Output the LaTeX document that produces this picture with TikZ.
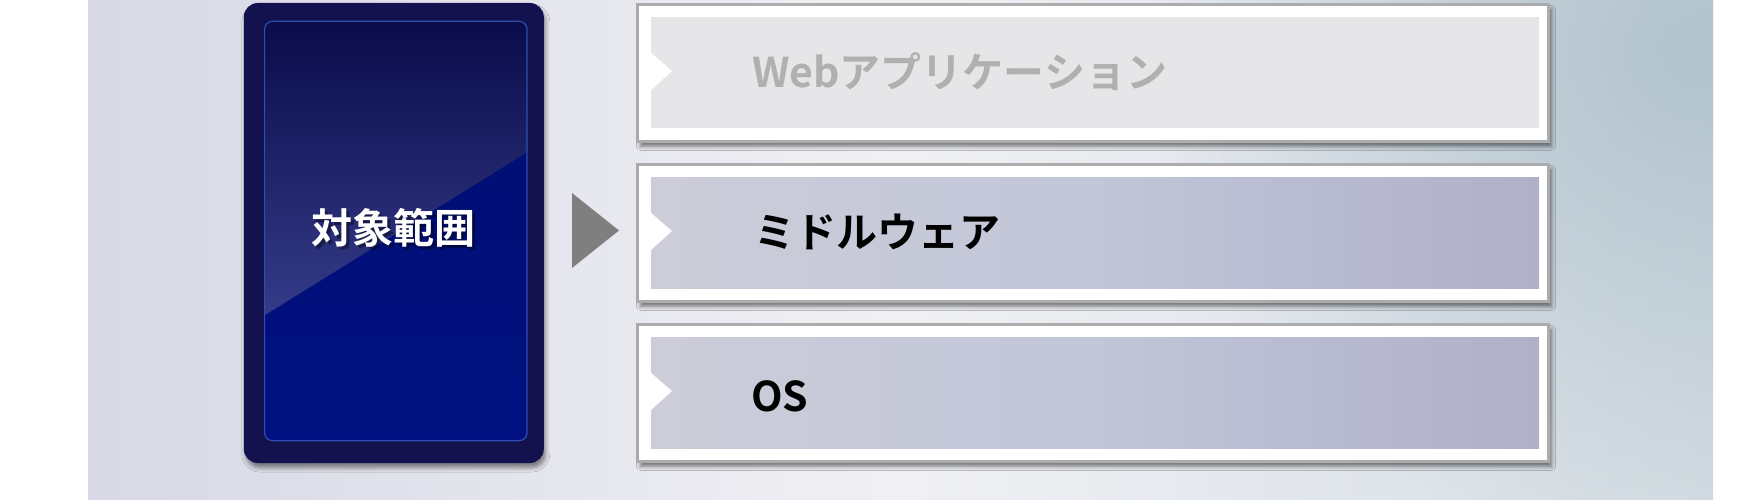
\documentclass[tikz,border=0pt]{standalone}
\usepackage{fontspec}
\newfontfamily\jpfont{Noto Sans CJK JP}[BoldFont={Noto Sans CJK JP Bold}]
\usetikzlibrary{positioning,calc,shadows.blur,fadings}

\definecolor{panelL}{HTML}{D8D8E6}
\definecolor{panelM}{HTML}{F0F0F4}
\definecolor{panelR}{HTML}{D4DDE3}
\definecolor{panelT}{HTML}{B2C3CE}
\definecolor{cardout}{HTML}{14124E}
\definecolor{cardline}{HTML}{2E4FB0}
\definecolor{cardtop}{HTML}{000E70}
\definecolor{cardbot}{HTML}{001080}
\definecolor{glossA}{HTML}{0A0C4A}
\definecolor{glossB}{HTML}{343B88}
\definecolor{layerL}{HTML}{CDCDD9}
\definecolor{layerM}{HTML}{C1C6D8}
\definecolor{layerR}{HTML}{B0B0C8}
\definecolor{webfill}{HTML}{E6E6E8}
\definecolor{webtext}{HTML}{B0B0B0}
\definecolor{arrowgray}{HTML}{7F7F7F}

\tikzfading[name=glow,inner color=transparent!0,outer color=transparent!100]

\begin{document}
\begin{tikzpicture}[x=1pt,y=-1pt,node distance=20pt,font=\jpfont\bfseries\fontsize{41}{41}\selectfont]

	\tikzstyle{layer}=[draw=gray!65,line width=3pt,fill=white,minimum width=911pt,minimum height=137pt,inner sep=0pt,
		blur shadow={shadow xshift=3pt,shadow yshift=-5pt,shadow blur radius=4pt,shadow opacity=50}]
	\tikzstyle{card}=[fill=cardout,rounded corners=14pt,minimum width=300pt,minimum height=460pt,inner sep=0pt,
		blur shadow={shadow xshift=2pt,shadow yshift=-5pt,shadow blur radius=4pt,shadow opacity=45}]
	\tikzstyle{label}=[anchor=west,inner sep=0pt]

	\useasboundingbox (0,0) rectangle (1750,500);
	% panel
	\begin{scope}
		\clip (88,0) rectangle (1713,500);
		\shade[left color=panelL,right color=panelR,middle color=panelM] (88,0) rectangle (1713,500);
		\fill[panelT,path fading=glow] (1150,-450) rectangle (2250,550);
	\end{scope}

	\node[layer] (mw) at (1093,233) {};
	\node[layer,above=of mw] (web) {};
	\node[layer,below=of mw] (os) {};
	\node[card,left=92pt of mw] (range) {};
	\node[minimum width=262pt,minimum height=419pt,inner sep=0pt] (rangein) at ($(range)+(2,-2)$) {};

	% card face
	\begin{scope}
		\clip[rounded corners=8pt] (rangein.north west) rectangle (rangein.south east);
		\shade[top color=cardtop,bottom color=cardbot] (rangein.north west) rectangle (rangein.south east);
		\shade[shading angle=45,top color=glossA,bottom color=glossB] (rangein.north west) -- (rangein.north east)
			-- ($(rangein.north east)+(0,131)$) -- ($(rangein.north west)+(0,294)$) -- cycle;
	\end{scope}
	\draw[cardline,line width=1.2pt,rounded corners=8pt] (rangein.north west) rectangle (rangein.south east);
	\node[text=black,opacity=.4] (rangeshade) at ($(range)+(3,-2)$) {対象範囲};
	\node[text=white] (rangetext) at ($(range)+(0,-5)$) {対象範囲};

	% arrow
	\fill[arrowgray] ($(mw.west)+(-64,-40)$) -- ($(mw.west)+(-17,-2.5)$) -- ($(mw.west)+(-64,35)$) -- cycle;

	% layers
	\fill[webfill] ($(web.north west)+(15,14)$) rectangle ($(web.south east)+(-11,-15)$);
	\shade[left color=layerL,right color=layerR,middle color=layerM] ($(mw.north west)+(15,14)$) rectangle ($(mw.south east)+(-11,-15)$);
	\shade[left color=layerL,right color=layerR,middle color=layerM] ($(os.north west)+(15,14)$) rectangle ($(os.south east)+(-11,-15)$);

	\fill[white] ($(web.west)+(15,-20)$) -- ($(web.west)+(36,-2)$) -- ($(web.west)+(15,17)$) -- cycle;
	\fill[white] ($(mw.west)+(15,-20)$) -- ($(mw.west)+(36,-2)$) -- ($(mw.west)+(15,17)$) -- cycle;
	\fill[white] ($(os.west)+(15,-20)$) -- ($(os.west)+(36,-2)$) -- ($(os.west)+(15,17)$) -- cycle;

	\node[label,text=webtext] (webtext) at ($(web.west)+(116,-1)$) {Webアプリケーション};
	\node[label,text=black] (mwtext) at ($(mw.west)+(118,-1)$) {ミドルウェア};
	\node[label,text=black] (ostext) at ($(os.west)+(115,3)$) {OS};

\end{tikzpicture}
\end{document}
